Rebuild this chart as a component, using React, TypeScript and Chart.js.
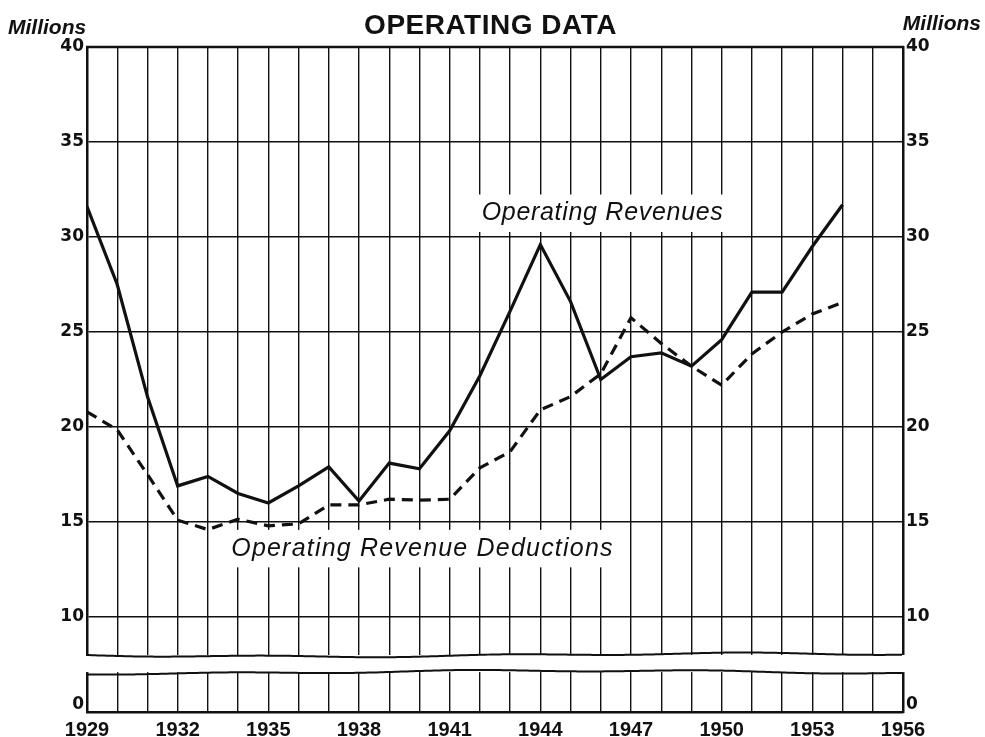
import React, { useEffect, useRef } from "react";
import { Chart, registerables } from "chart.js";

Chart.register(...registerables);

// ---- data ----
const years = [
  1929, 1930, 1931, 1932, 1933, 1934, 1935, 1936, 1937, 1938, 1939, 1940, 1941,
  1942, 1943, 1944, 1945, 1946, 1947, 1948, 1949, 1950, 1951, 1952, 1953, 1954,
];
const operatingRevenues = [
  31.6, 27.5, 21.6, 16.9, 17.4, 16.5, 16.0, 16.9, 17.9, 16.1, 18.1, 17.8, 19.8,
  22.7, 26.1, 29.6, 26.6, 22.5, 23.7, 23.9, 23.2, 24.6, 27.1, 27.1, 29.5, 31.7,
];
const operatingRevenueDeductions = [
  20.8, 19.85, 17.5, 15.1, 14.6, 15.15, 14.8, 14.9, 15.9, 15.9, 16.2, 16.15, 16.2,
  17.85, 18.7, 20.9, 21.6, 22.8, 25.75, 24.4, 23.2, 22.2, 23.85, 25.0, 25.95, 26.55,
];
const yearLabelStart = 1929;
const yearLabelEvery = 3;
const xMin = 1929;
const xMax = 1956;
const yTickValues = [10, 15, 20, 25, 30, 35, 40];
// axis is broken: bottom section shows the zero line
const yBottom = 5;
const zeroTickValue = 5.4;
const breakTop = 8.0;
const breakBottom = 7.1;
const title = "OPERATING DATA";
const unitLabel = "Millions";
const revenuesLabel = "Operating Revenues";
const deductionsLabel = "Operating Revenue Deductions";
const revenuesLabelAt = [1946.06, 31.25];
const deductionsLabelAt = [1940.1, 13.6];

const INK = "#111";

const overlayPlugin = {
  id: "overlay",
  beforeDatasetsDraw(chart: any) {
    const { ctx, chartArea: a, scales } = chart;
    const x = scales.x;
    const y = scales.y;
    ctx.save();
    // top border
    ctx.strokeStyle = INK;
    ctx.lineWidth = 2.5;
    ctx.beginPath();
    ctx.moveTo(a.left - 1, a.top);
    ctx.lineTo(a.right + 1, a.top);
    ctx.stroke();

    // axis break band
    const yt = y.getPixelForValue(breakTop);
    const yb = y.getPixelForValue(breakBottom);
    ctx.fillStyle = "#fff";
    ctx.fillRect(a.left - 3, yt, a.right - a.left + 6, yb - yt);
    ctx.lineWidth = 2;
    ctx.strokeStyle = INK;
    [yt, yb].forEach((yy, k) => {
      ctx.beginPath();
      for (let px = a.left - 1; px <= a.right + 1; px += 3) {
        const t = px - a.left;
        const w =
          Math.sin(t / 38 + k) * 0.9 +
          Math.sin(t / 140 + 1.3 * k) * 1.6;
        if (px === a.left - 1) ctx.moveTo(px, yy + w);
        else ctx.lineTo(px, yy + w);
      }
      ctx.stroke();
    });

    // annotation labels with white backing
    const drawLabel = (text: string, at: number[], size: number, spacing: number) => {
      ctx.font = `italic ${size}px "Liberation Sans", Arial, sans-serif`;
      (ctx as any).letterSpacing = `${spacing}px`;
      const w = ctx.measureText(text).width;
      const cx = x.getPixelForValue(at[0]);
      const cy = y.getPixelForValue(at[1]);
      ctx.fillStyle = "#fff";
      ctx.fillRect(cx - w / 2 - 6, cy - size * 0.75, w + 12, size * 1.5);
      ctx.fillStyle = INK;
      ctx.textAlign = "center";
      ctx.textBaseline = "middle";
      ctx.fillText(text, cx, cy);
      (ctx as any).letterSpacing = "0px";
    };
    drawLabel(revenuesLabel, revenuesLabelAt, 25, 0.7);
    drawLabel(deductionsLabel, deductionsLabelAt, 25, 1.2);
    ctx.restore();
  },
  afterDraw(chart: any) {
    const { ctx, width } = chart;
    ctx.save();
    ctx.fillStyle = INK;
    ctx.textBaseline = "alphabetic";
    ctx.textAlign = "center";
    ctx.font = `bold 28px "Liberation Sans", Arial, sans-serif`;
    (ctx as any).letterSpacing = "0.5px";
    ctx.fillText(title, width / 2 - 2, 34);
    ctx.font = `italic bold 21px "Liberation Sans", Arial, sans-serif`;
    (ctx as any).letterSpacing = "0px";
    ctx.textAlign = "left";
    ctx.fillText(unitLabel, 8, 34);
    ctx.textAlign = "right";
    ctx.fillText(unitLabel, width - 4, 30);
    ctx.restore();
  },
};

function yTicks(scale: any) {
  scale.ticks = [{ value: zeroTickValue }, ...yTickValues.map((v) => ({ value: v }))];
}

export default function App() {
  const canvasRef = useRef<HTMLCanvasElement | null>(null);

  useEffect(() => {
    if (!canvasRef.current) return;
    const yTickFont = { family: '"DejaVu Sans", sans-serif', size: 17, weight: "bold" as const };
    const xTickFont = { family: '"Liberation Sans", Arial, sans-serif', size: 20, weight: "bold" as const };
    const yCommon = {
      type: "linear" as const,
      min: yBottom,
      max: 40,
      afterBuildTicks: yTicks,
      border: { display: true, color: INK, width: 2.5 },
      ticks: {
        color: INK,
        font: yTickFont,
        padding: 3,
        autoSkip: false,
        callback: (v: any) => (v === zeroTickValue ? "0" : String(v)),
      },
    };
    const chart = new Chart(canvasRef.current, {
      type: "line",
      data: {
        datasets: [
          {
            label: revenuesLabel,
            data: years.map((yr, i) => ({ x: yr, y: operatingRevenues[i] })),
            borderColor: INK,
            borderWidth: 3.2,
            pointRadius: 0,
            tension: 0,
          },
          {
            label: deductionsLabel,
            data: years.map((yr, i) => ({ x: yr, y: operatingRevenueDeductions[i] })),
            borderColor: INK,
            borderWidth: 3.2,
            borderDash: [11, 7],
            pointRadius: 0,
            tension: 0,
          },
        ],
      },
      options: {
        animation: false,
        responsive: true,
        maintainAspectRatio: false,
        layout: { padding: { top: 47, left: 0, right: 0, bottom: 0 } },
        plugins: {
          legend: { display: false },
          tooltip: { enabled: false },
          title: { display: false },
        },
        scales: {
          x: {
            type: "linear",
            min: xMin,
            max: xMax,
            afterFit: (s: any) => {
              s.height = 25;
            },
            border: { display: true, color: INK, width: 2.5 },
            grid: {
              color: INK,
              lineWidth: 1.4,
              drawTicks: false,
            },
            ticks: {
              stepSize: 1,
              autoSkip: false,
              maxRotation: 0,
              color: INK,
              font: xTickFont,
              padding: 6,
              callback: (v: any) =>
                (Number(v) - yearLabelStart) % yearLabelEvery === 0 ? String(v) : "",
            },
          },
          y: {
            ...yCommon,
            position: "left",
            afterFit: (s: any) => {
              s.width = 87;
            },
            grid: {
              color: (c: any) => (c.tick && c.tick.value === zeroTickValue ? "rgba(0,0,0,0)" : INK),
              lineWidth: 1.4,
              drawTicks: false,
            },
          },
          y2: {
            ...yCommon,
            position: "right",
            afterFit: (s: any) => {
              s.width = 82;
            },
            grid: { display: false, drawTicks: false },
          },
        },
      },
      plugins: [overlayPlugin],
    } as any);
    return () => chart.destroy();
  }, []);

  return (
    <div style={{ position: "absolute", left: 0, top: 0, width: 985, height: 737, background: "#fff" }}>
      <canvas ref={canvasRef} />
    </div>
  );
}
